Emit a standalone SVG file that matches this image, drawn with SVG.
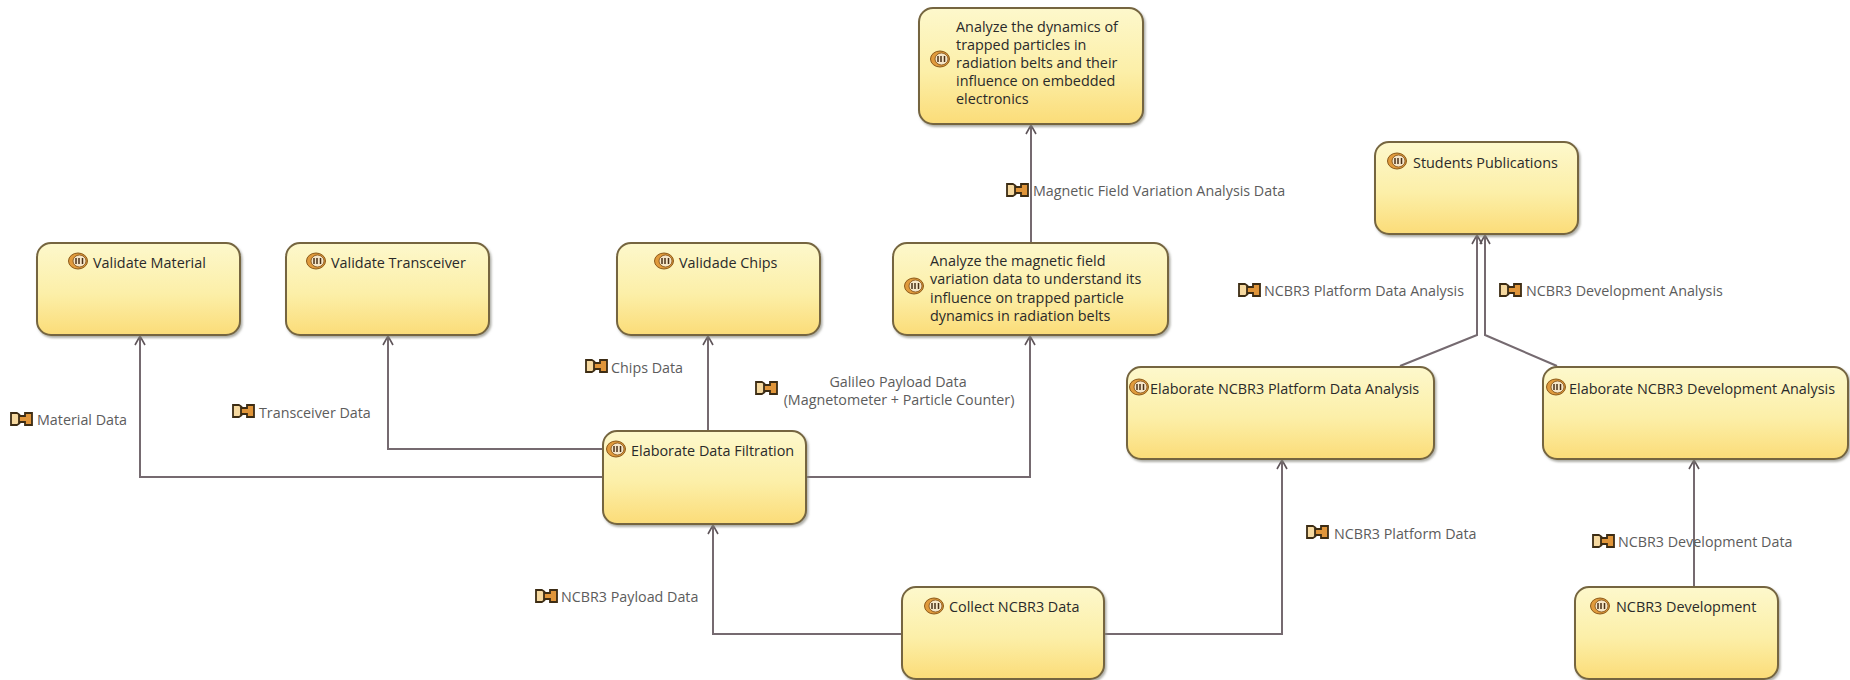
<svg xmlns="http://www.w3.org/2000/svg" width="1850" height="680" viewBox="0 0 1850 680">
<style>
text{font-family:"Open Sans","Noto Sans","Liberation Sans",sans-serif}
.b{fill:url(#g);stroke:#75653f;stroke-width:2;filter:url(#s)}
.t{font-size:14.4px;fill:#2a2a2a}
.l{font-size:14.3px;fill:#5c5c5c}
.c{fill:none;stroke:#756a70;stroke-width:2;marker-end:url(#a)}
</style>
<defs>
<linearGradient id="g" x1="0" y1="0" x2="0" y2="1"><stop offset="0" stop-color="#fdf8cc"/><stop offset="0.55" stop-color="#fcefa8"/><stop offset="1" stop-color="#fbdc78"/></linearGradient>
<filter id="s" x="-5%" y="-5%" width="110%" height="115%"><feDropShadow dx="1.5" dy="2" stdDeviation="1" flood-color="#8a8a80" flood-opacity="0.7"/></filter>
<marker id="a" viewBox="0 0 10 12" refX="9.500" refY="6" markerWidth="10" markerHeight="12" orient="auto" markerUnits="userSpaceOnUse"><path d="M0.500 1L9.500 6L0.500 11" fill="none" stroke="#5f555a" stroke-width="1.600"/></marker>
<symbol id="i" width="20" height="16" viewBox="0 0 20 16" overflow="visible"><ellipse cx="10" cy="8" rx="9.500" ry="8" fill="#e09a3c" stroke="#8c5a1a"/><ellipse cx="11.500" cy="8" rx="6.500" ry="6" fill="#f6e6c8" stroke="#7a4a12" stroke-width="0.800"/><path d="M8 5v6M11 5v6M14.500 5v6" stroke="#4a3018" stroke-width="1.500"/></symbol>
<symbol id="e" width="23" height="14" viewBox="0 0 23 14" overflow="visible"><path d="M1 1h6q4 2 4 6t-4 6H1z" fill="#f6d9a0" stroke="#3c2c14" stroke-width="1.800"/><path d="M22 1h-7v3h-6v6h6v3h7z" fill="#e0953a" stroke="#3c2c14" stroke-width="1.800"/></symbol>
</defs>
<rect width="1850" height="680" fill="#fff"/>
<g id="connectors">
<path class="c" d="M603 477H140V336"/>
<path class="c" d="M603 449H388V336"/>
<path class="c" d="M708 431V336"/>
<path class="c" d="M806 477H1030V336"/>
<path class="c" d="M1031 243V125"/>
<path class="c" d="M902 634H713V525"/>
<path class="c" d="M1104 634H1282V460"/>
<path class="c" d="M1694 587V460"/>
<path class="c" d="M1400 366L1477 335V235"/>
<path class="c" d="M1557 366L1485 335V235"/>
</g>
<g id="n1"><rect class="b" x="919" y="8" width="224" height="116" rx="14"/><use href="#i" x="930" y="51"/><text class="t" x="956" y="32">Analyze the dynamics of</text><text class="t" x="956" y="50">trapped particles in</text><text class="t" x="956" y="68">radiation belts and their</text><text class="t" x="956" y="86">influence on embedded</text><text class="t" x="956" y="104">electronics</text></g>
<g id="n2"><rect class="b" x="37" y="243" width="203" height="92" rx="14"/><use href="#i" x="68" y="253"/><text class="t" x="93" y="268">Validate Material</text></g>
<g id="n3"><rect class="b" x="286" y="243" width="203" height="92" rx="14"/><use href="#i" x="306" y="253"/><text class="t" x="331" y="268">Validate Transceiver</text></g>
<g id="n4"><rect class="b" x="617" y="243" width="203" height="92" rx="14"/><use href="#i" x="654" y="253"/><text class="t" x="679" y="268">Validade Chips</text></g>
<g id="n5"><rect class="b" x="893" y="243" width="275" height="92" rx="14"/><use href="#i" x="904" y="278"/><text class="t" x="930" y="266">Analyze the magnetic field</text><text class="t" x="930" y="284">variation data to understand its</text><text class="t" x="930" y="303">influence on trapped particle</text><text class="t" x="930" y="321">dynamics in radiation belts</text></g>
<g id="n6"><rect class="b" x="1375" y="142" width="203" height="92" rx="14"/><use href="#i" x="1387" y="153"/><text class="t" x="1413" y="168">Students Publications</text></g>
<g id="n7"><rect class="b" x="1127" y="367" width="307" height="92" rx="14"/><use href="#i" x="1129" y="379"/><text class="t" x="1150" y="394">Elaborate NCBR3 Platform Data Analysis</text></g>
<g id="n8"><rect class="b" x="1543" y="367" width="305" height="92" rx="14"/><use href="#i" x="1546" y="379"/><text class="t" x="1569" y="394">Elaborate NCBR3 Development Analysis</text></g>
<g id="n9"><rect class="b" x="603" y="431" width="203" height="93" rx="14"/><use href="#i" x="606" y="441"/><text class="t" x="631" y="456">Elaborate Data Filtration</text></g>
<g id="n10"><rect class="b" x="902" y="587" width="202" height="92" rx="14"/><use href="#i" x="924" y="598"/><text class="t" x="949" y="612">Collect NCBR3 Data</text></g>
<g id="n11"><rect class="b" x="1575" y="587" width="203" height="92" rx="14"/><use href="#i" x="1590" y="598"/><text class="t" x="1616" y="612">NCBR3 Development</text></g>
<g id="labels">
<use href="#e" x="10" y="412"/><text class="l" x="37" y="425">Material Data</text>
<use href="#e" x="232" y="404"/><text class="l" x="259" y="418">Transceiver Data</text>
<use href="#e" x="585" y="359"/><text class="l" x="611" y="373">Chips Data</text>
<use href="#e" x="755" y="381"/><text class="l" x="898" y="387" text-anchor="middle">Galileo Payload Data</text><text class="l" x="899" y="405" text-anchor="middle">(Magnetometer + Particle Counter)</text>
<use href="#e" x="1006" y="183"/><text class="l" x="1033" y="196">Magnetic Field Variation Analysis Data</text>
<use href="#e" x="1238" y="283"/><text class="l" x="1264" y="296">NCBR3 Platform Data Analysis</text>
<use href="#e" x="1499" y="283"/><text class="l" x="1526" y="296">NCBR3 Development Analysis</text>
<use href="#e" x="1306" y="525"/><text class="l" x="1334" y="539">NCBR3 Platform Data</text>
<use href="#e" x="1592" y="534"/><text class="l" x="1618" y="547">NCBR3 Development Data</text>
<use href="#e" x="535" y="589"/><text class="l" x="561" y="602">NCBR3 Payload Data</text>
</g>
</svg>
